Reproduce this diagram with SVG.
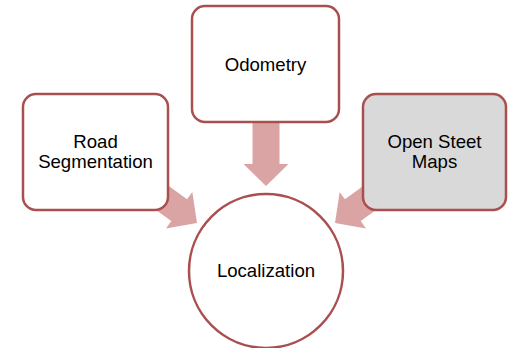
<svg xmlns="http://www.w3.org/2000/svg" width="508" height="348" viewBox="0 0 508 348">
<defs>
<style>
.node{stroke:#a94f4f;stroke-width:2.5;}
.box{fill:#ffffff;}
.grey{fill:#d9d9d9;}
.arrow{fill:#dba4a4;stroke:none;}
text{font-family:"Liberation Sans",Arial,sans-serif;font-size:18.6px;fill:#000000;text-anchor:middle;}
</style>
<polygon id="blk" points="-64,-13.5 -22,-13.5 -22,-22.5 0,0 -22,22.5 -22,13.5 -64,13.5"/>
</defs>
<rect x="0" y="0" width="508" height="348" fill="#ffffff"/>
<g id="connectors">
<use href="#blk" class="arrow" transform="translate(266,186) rotate(90)"/>
<use href="#blk" class="arrow" transform="translate(197,223) rotate(35.8)"/>
<use href="#blk" class="arrow" transform="translate(335,223) rotate(144.2)"/>
</g>
<g id="odometry">
<rect class="node box" x="192" y="6" width="147" height="116" rx="13"/>
<text x="265.5" y="71">Odometry</text>
</g>
<g id="road-segmentation">
<rect class="node box" x="23" y="94" width="145" height="116" rx="13"/>
<text x="95.5" y="148">Road</text>
<text x="95.5" y="168">Segmentation</text>
</g>
<g id="open-street-maps">
<rect class="node grey" x="363" y="94" width="143" height="116" rx="13"/>
<text x="434.5" y="148">Open Steet</text>
<text x="434.5" y="168">Maps</text>
</g>
<g id="localization">
<circle class="node box" cx="266" cy="271" r="77"/>
<text x="266" y="277">Localization</text>
</g>
</svg>
